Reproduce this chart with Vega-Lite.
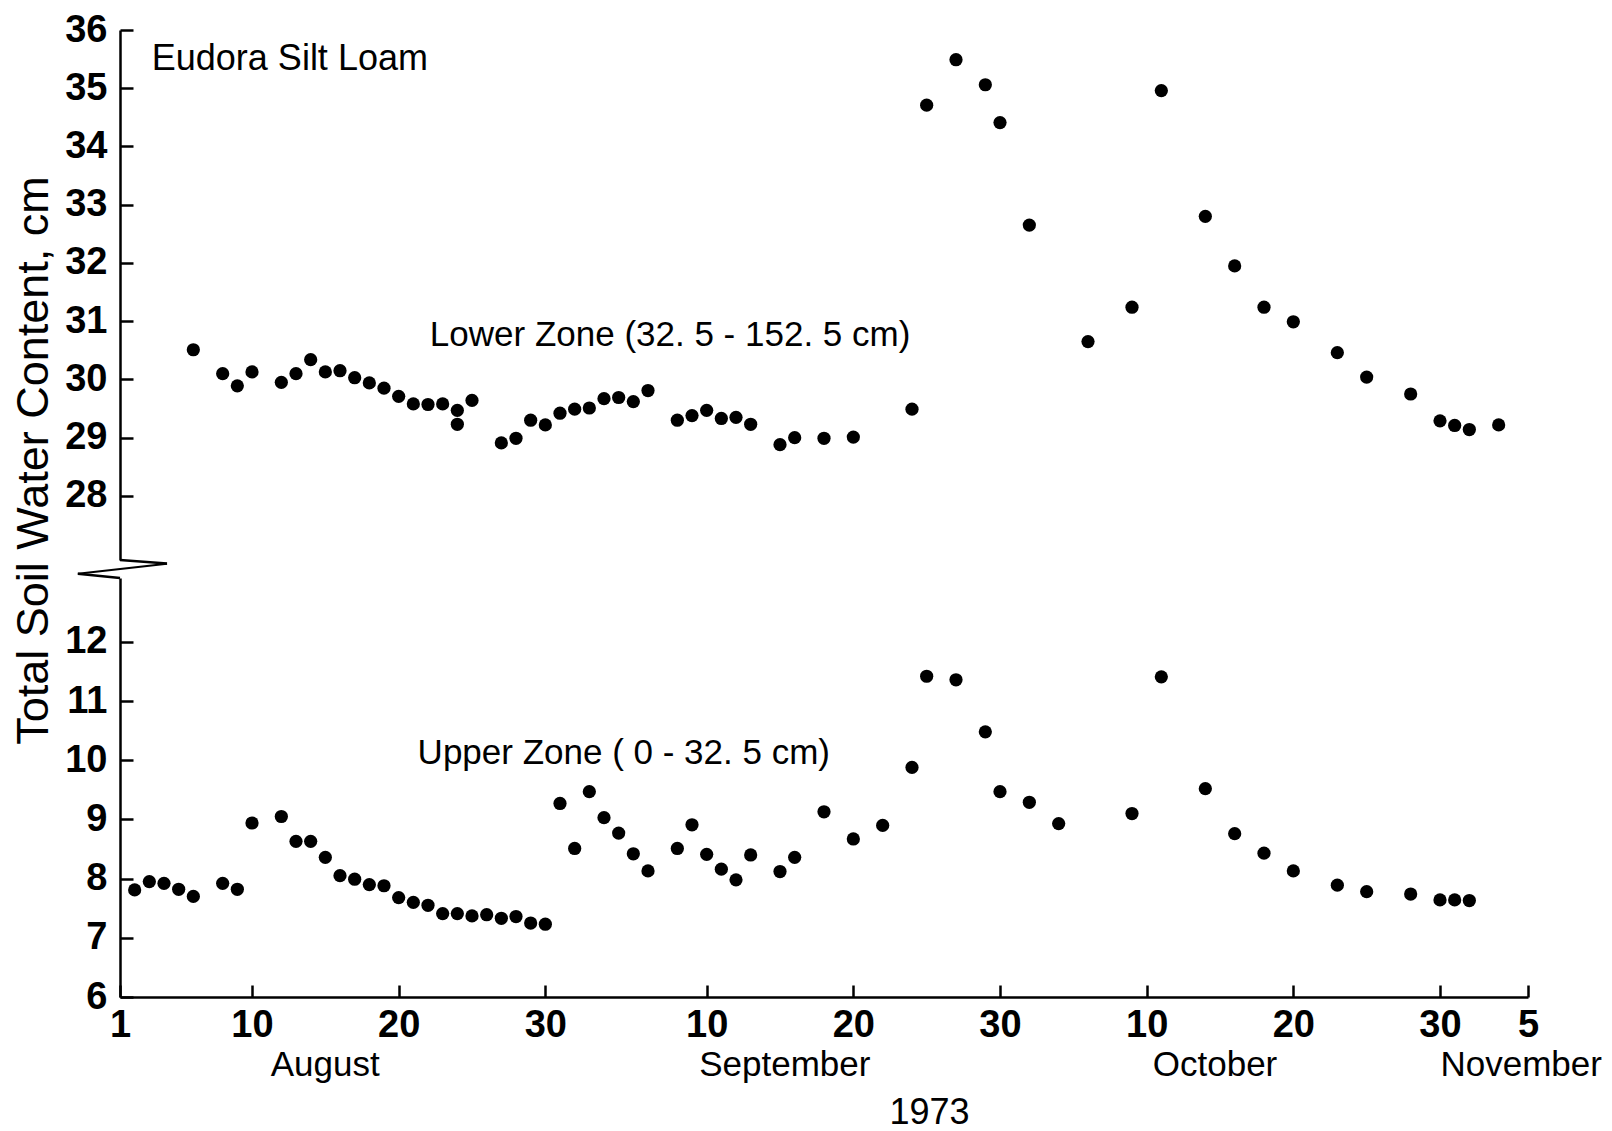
{
  "$schema": "https://vega.github.io/schema/vega-lite/v6.json",
  "background": "white",
  "padding": {"left": 11, "top": 11, "right": 5, "bottom": 5},
  "spacing": 18,
  "bounds": "flush",
  "config": {
    "view": {"stroke": null},
    "axis": {
      "grid": false,
      "domainColor": "black",
      "domainWidth": 2.5,
      "tickColor": "black",
      "tickWidth": 2.5,
      "labelColor": "black",
      "titleColor": "black",
      "labelFont": "Liberation Sans Narrow, Liberation Sans, sans-serif",
      "labelFontSize": 38,
      "labelFontWeight": "bold",
      "titleFont": "Liberation Sans, sans-serif",
      "titleFontWeight": "normal",
      "labelFlush": false
    },
    "text": {"font": "Liberation Sans, sans-serif", "fontSize": 35, "color": "black"}
  },
  "datasets": {
    "lower": [
      {"date": "1973-08-06", "water_cm": 30.51},
      {"date": "1973-08-08", "water_cm": 30.10},
      {"date": "1973-08-09", "water_cm": 29.89},
      {"date": "1973-08-10", "water_cm": 30.13},
      {"date": "1973-08-12", "water_cm": 29.95},
      {"date": "1973-08-13", "water_cm": 30.10},
      {"date": "1973-08-14", "water_cm": 30.34},
      {"date": "1973-08-15", "water_cm": 30.13},
      {"date": "1973-08-16", "water_cm": 30.15},
      {"date": "1973-08-17", "water_cm": 30.03},
      {"date": "1973-08-18", "water_cm": 29.94},
      {"date": "1973-08-19", "water_cm": 29.85},
      {"date": "1973-08-20", "water_cm": 29.71},
      {"date": "1973-08-21", "water_cm": 29.58},
      {"date": "1973-08-22", "water_cm": 29.57},
      {"date": "1973-08-23", "water_cm": 29.58},
      {"date": "1973-08-24", "water_cm": 29.47},
      {"date": "1973-08-24", "water_cm": 29.23},
      {"date": "1973-08-25", "water_cm": 29.64},
      {"date": "1973-08-27", "water_cm": 28.91},
      {"date": "1973-08-28", "water_cm": 28.99},
      {"date": "1973-08-29", "water_cm": 29.30},
      {"date": "1973-08-30", "water_cm": 29.22},
      {"date": "1973-08-31", "water_cm": 29.42},
      {"date": "1973-09-01", "water_cm": 29.49},
      {"date": "1973-09-02", "water_cm": 29.51},
      {"date": "1973-09-03", "water_cm": 29.67},
      {"date": "1973-09-04", "water_cm": 29.69},
      {"date": "1973-09-05", "water_cm": 29.62},
      {"date": "1973-09-06", "water_cm": 29.81},
      {"date": "1973-09-08", "water_cm": 29.30},
      {"date": "1973-09-09", "water_cm": 29.38},
      {"date": "1973-09-10", "water_cm": 29.47},
      {"date": "1973-09-11", "water_cm": 29.33},
      {"date": "1973-09-12", "water_cm": 29.35},
      {"date": "1973-09-13", "water_cm": 29.23},
      {"date": "1973-09-15", "water_cm": 28.88},
      {"date": "1973-09-16", "water_cm": 29.00},
      {"date": "1973-09-18", "water_cm": 28.99},
      {"date": "1973-09-20", "water_cm": 29.01},
      {"date": "1973-09-24", "water_cm": 29.49},
      {"date": "1973-09-25", "water_cm": 34.71},
      {"date": "1973-09-27", "water_cm": 35.49},
      {"date": "1973-09-29", "water_cm": 35.06},
      {"date": "1973-09-30", "water_cm": 34.41},
      {"date": "1973-10-02", "water_cm": 32.65},
      {"date": "1973-10-06", "water_cm": 30.65},
      {"date": "1973-10-09", "water_cm": 31.24},
      {"date": "1973-10-11", "water_cm": 34.96},
      {"date": "1973-10-14", "water_cm": 32.80},
      {"date": "1973-10-16", "water_cm": 31.95},
      {"date": "1973-10-18", "water_cm": 31.24},
      {"date": "1973-10-20", "water_cm": 30.99},
      {"date": "1973-10-23", "water_cm": 30.46},
      {"date": "1973-10-25", "water_cm": 30.04},
      {"date": "1973-10-28", "water_cm": 29.75},
      {"date": "1973-10-30", "water_cm": 29.29},
      {"date": "1973-10-31", "water_cm": 29.21},
      {"date": "1973-11-01", "water_cm": 29.14},
      {"date": "1973-11-03", "water_cm": 29.22}
    ],
    "upper": [
      {"date": "1973-08-02", "water_cm": 7.81},
      {"date": "1973-08-03", "water_cm": 7.95},
      {"date": "1973-08-04", "water_cm": 7.92},
      {"date": "1973-08-05", "water_cm": 7.82},
      {"date": "1973-08-06", "water_cm": 7.70},
      {"date": "1973-08-08", "water_cm": 7.92},
      {"date": "1973-08-09", "water_cm": 7.82},
      {"date": "1973-08-10", "water_cm": 8.94},
      {"date": "1973-08-12", "water_cm": 9.05},
      {"date": "1973-08-13", "water_cm": 8.63},
      {"date": "1973-08-14", "water_cm": 8.63},
      {"date": "1973-08-15", "water_cm": 8.36},
      {"date": "1973-08-16", "water_cm": 8.05},
      {"date": "1973-08-17", "water_cm": 7.99},
      {"date": "1973-08-18", "water_cm": 7.90},
      {"date": "1973-08-19", "water_cm": 7.88},
      {"date": "1973-08-20", "water_cm": 7.68},
      {"date": "1973-08-21", "water_cm": 7.60},
      {"date": "1973-08-22", "water_cm": 7.55},
      {"date": "1973-08-23", "water_cm": 7.41},
      {"date": "1973-08-24", "water_cm": 7.41},
      {"date": "1973-08-25", "water_cm": 7.37},
      {"date": "1973-08-26", "water_cm": 7.39},
      {"date": "1973-08-27", "water_cm": 7.33},
      {"date": "1973-08-28", "water_cm": 7.36},
      {"date": "1973-08-29", "water_cm": 7.25},
      {"date": "1973-08-30", "water_cm": 7.23},
      {"date": "1973-08-31", "water_cm": 9.27},
      {"date": "1973-09-01", "water_cm": 8.51},
      {"date": "1973-09-02", "water_cm": 9.47},
      {"date": "1973-09-03", "water_cm": 9.03},
      {"date": "1973-09-04", "water_cm": 8.77},
      {"date": "1973-09-05", "water_cm": 8.42},
      {"date": "1973-09-06", "water_cm": 8.13},
      {"date": "1973-09-08", "water_cm": 8.51},
      {"date": "1973-09-09", "water_cm": 8.91},
      {"date": "1973-09-10", "water_cm": 8.41},
      {"date": "1973-09-11", "water_cm": 8.16},
      {"date": "1973-09-12", "water_cm": 7.98},
      {"date": "1973-09-13", "water_cm": 8.40},
      {"date": "1973-09-15", "water_cm": 8.12},
      {"date": "1973-09-16", "water_cm": 8.36},
      {"date": "1973-09-18", "water_cm": 9.13},
      {"date": "1973-09-20", "water_cm": 8.67},
      {"date": "1973-09-22", "water_cm": 8.90},
      {"date": "1973-09-24", "water_cm": 9.88},
      {"date": "1973-09-25", "water_cm": 11.42},
      {"date": "1973-09-27", "water_cm": 11.36},
      {"date": "1973-09-29", "water_cm": 10.48},
      {"date": "1973-09-30", "water_cm": 9.47},
      {"date": "1973-10-02", "water_cm": 9.29},
      {"date": "1973-10-04", "water_cm": 8.93},
      {"date": "1973-10-09", "water_cm": 9.10},
      {"date": "1973-10-11", "water_cm": 11.41},
      {"date": "1973-10-14", "water_cm": 9.52},
      {"date": "1973-10-16", "water_cm": 8.76},
      {"date": "1973-10-18", "water_cm": 8.43},
      {"date": "1973-10-20", "water_cm": 8.13},
      {"date": "1973-10-23", "water_cm": 7.89},
      {"date": "1973-10-25", "water_cm": 7.78},
      {"date": "1973-10-28", "water_cm": 7.74},
      {"date": "1973-10-30", "water_cm": 7.64},
      {"date": "1973-10-31", "water_cm": 7.64},
      {"date": "1973-11-01", "water_cm": 7.63}
    ]
  },
  "vconcat": [
    {
      "width": 1408,
      "height": 530,
      "layer": [
        {
          "data": {"name": "lower"},
          "mark": {"type": "circle", "size": 175, "color": "black", "opacity": 1},
          "encoding": {
            "x": {
              "field": "date", "type": "temporal",
              "scale": {"type": "utc", "domain": [{"year": 1973, "month": 8, "date": 1, "utc": true}, {"year": 1973, "month": 11, "date": 5, "utc": true}]},
              "axis": null
            },
            "y": {
              "field": "water_cm", "type": "quantitative",
              "scale": {"domain": [26.9, 36], "nice": false, "zero": false},
              "axis": {
                "values": [28, 29, 30, 31, 32, 33, 34, 35, 36],
                "format": "d",
                "tickSize": -13,
                "labelPadding": 26,
                "title": "Total Soil Water Content, cm",
                "titleFontSize": 45,
                "titleAngle": -90,
                "titleX": -73,
                "titleY": 430,
                "titleAlign": "center",
                "titleBaseline": "alphabetic"
              }
            }
          }
        },
        {
          "data": {"values": [{}]},
          "mark": {"type": "text", "align": "left", "baseline": "middle", "fontSize": 36},
          "encoding": {
            "x": {"datum": {"year": 1973, "month": 8, "date": 3, "hours": 4, "utc": true}, "type": "temporal"},
            "y": {"datum": 35.5},
            "text": {"value": "Eudora Silt Loam"}
          }
        },
        {
          "data": {"values": [{}]},
          "mark": {"type": "text", "align": "left", "baseline": "middle"},
          "encoding": {
            "x": {"datum": {"year": 1973, "month": 8, "date": 22, "hours": 3, "utc": true}, "type": "temporal"},
            "y": {"datum": 30.76},
            "text": {"value": "Lower Zone (32. 5 - 152. 5 cm)"}
          }
        },
        {
          "data": {"values": [{}]},
          "mark": {"type": "rule", "color": "black", "strokeWidth": 2.5},
          "encoding": {
            "x": {"datum": {"year": 1973, "month": 8, "date": 1, "utc": true}, "type": "temporal"},
            "x2": {"datum": {"year": 1973, "month": 8, "date": 4, "hours": 5, "utc": true}},
            "y": {"datum": 26.9},
            "y2": {"datum": 26.84}
          }
        }
      ]
    },
    {
      "width": 1408,
      "height": 419,
      "resolve": {"scale": {"x": "independent"}, "axis": {"x": "independent"}},
      "layer": [
        {
          "layer": [
            {
              "data": {"name": "upper"},
              "mark": {"type": "circle", "size": 175, "color": "black", "opacity": 1},
              "encoding": {
                "x": {
                  "field": "date", "type": "temporal",
                  "scale": {"type": "utc", "domain": [{"year": 1973, "month": 8, "date": 1, "utc": true}, {"year": 1973, "month": 11, "date": 5, "utc": true}]},
                  "axis": {
                    "orient": "bottom",
                    "values": [
                      {"year": 1973, "month": 8, "date": 1, "utc": true},
                      {"year": 1973, "month": 8, "date": 10, "utc": true},
                      {"year": 1973, "month": 8, "date": 20, "utc": true},
                      {"year": 1973, "month": 8, "date": 30, "utc": true},
                      {"year": 1973, "month": 9, "date": 10, "utc": true},
                      {"year": 1973, "month": 9, "date": 20, "utc": true},
                      {"year": 1973, "month": 9, "date": 30, "utc": true},
                      {"year": 1973, "month": 10, "date": 10, "utc": true},
                      {"year": 1973, "month": 10, "date": 20, "utc": true},
                      {"year": 1973, "month": 10, "date": 30, "utc": true},
                      {"year": 1973, "month": 11, "date": 5, "utc": true}
                    ],
                    "labelExpr": "utcFormat(datum.value, '%-d')",
                    "labelOverlap": false,
                    "tickSize": -12,
                    "labelPadding": 21,
                    "title": null
                  }
                },
                "y": {
                  "field": "water_cm", "type": "quantitative",
                  "scale": {"domain": [6, 13.08], "nice": false, "zero": false},
                  "axis": {
                    "values": [6, 7, 8, 9, 10, 11, 12],
                    "format": "d",
                    "tickSize": -13,
                    "labelPadding": 26,
                    "title": null
                  }
                }
              }
            },
            {
              "data": {"values": [{}]},
              "mark": {"type": "text", "align": "left", "baseline": "middle"},
              "encoding": {
                "x": {"datum": {"year": 1973, "month": 8, "date": 21, "hours": 7, "utc": true}, "type": "temporal"},
                "y": {"datum": 10.13},
                "text": {"value": "Upper Zone ( 0 - 32. 5 cm)"}
              }
            },
            {
              "data": {"values": [{}]},
              "mark": {"type": "rule", "color": "black", "strokeWidth": 2},
              "encoding": {
                "x": {"datum": {"year": 1973, "month": 8, "date": 4, "hours": 5, "utc": true}, "type": "temporal"},
                "x2": {"datum": {"year": 1973, "month": 7, "date": 29, "hours": 3, "utc": true}},
                "y": {"datum": 13.32},
                "y2": {"datum": 13.15}
              }
            },
            {
              "data": {"values": [{}]},
              "mark": {"type": "rule", "color": "black", "strokeWidth": 2.5},
              "encoding": {
                "x": {"datum": {"year": 1973, "month": 7, "date": 29, "hours": 3, "utc": true}, "type": "temporal"},
                "x2": {"datum": {"year": 1973, "month": 8, "date": 1, "utc": true}},
                "y": {"datum": 13.15},
                "y2": {"datum": 13.08}
              }
            }
          ]
        },
        {
          "data": {"values": [{}]},
          "mark": {"type": "text", "text": ""},
          "encoding": {
            "x": {
              "datum": {"year": 1973, "month": 8, "date": 15, "utc": true},
              "type": "temporal",
              "scale": {"type": "utc", "domain": [{"year": 1973, "month": 8, "date": 1, "utc": true}, {"year": 1973, "month": 11, "date": 5, "utc": true}]},
              "axis": {
                "orient": "bottom",
                "values": [
                  {"year": 1973, "month": 8, "date": 14, "hours": 23, "utc": true},
                  {"year": 1973, "month": 9, "date": 15, "hours": 7, "utc": true},
                  {"year": 1973, "month": 10, "date": 14, "hours": 15, "utc": true},
                  {"year": 1973, "month": 11, "date": 4, "hours": 12, "utc": true}
                ],
                "labelExpr": "utcFormat(datum.value, '%B')",
                "labelOverlap": false,
                "labelFont": "Liberation Sans, sans-serif",
                "labelFontWeight": "normal",
                "labelFontSize": 35,
                "ticks": false,
                "domain": false,
                "labelPadding": 50,
                "title": "1973",
                "titleFont": "Liberation Sans, sans-serif",
                "titleFontWeight": "normal",
                "titleFontSize": 36,
                "titleX": 809,
                "titleY": 98,
                "titleAlign": "center",
                "titleBaseline": "top"
              }
            }
          }
        }
      ]
    }
  ]
}
